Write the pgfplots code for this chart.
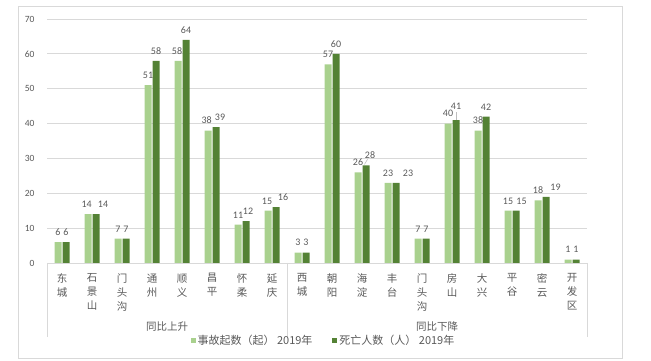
\documentclass[border=0pt]{standalone}
\usepackage{pgfplots}
\pgfplotsset{compat=1.18}
\usepackage{pgfplotstable}
\usepackage{fontspec}
\setmainfont{Carlito}
\newfontfamily\cjk{Noto Sans CJK SC}
\definecolor{lg}{HTML}{A9D18E}
\definecolor{dg}{HTML}{548235}
\definecolor{tg}{HTML}{595959}
\definecolor{gl}{HTML}{D9D9D9}
\pgfplotstableread{
x a b xa ya xb yb
0 6 6 0 0 0 0
1 14 14 -1.3 0 7 0
2 7 7 0 0 0 0
3 51 58 0 0 0 0
4 58 64 -1 0 0 0
5 38 39 -1.3 0 4 0
6 11 12 0 0 2 0
7 15 16 -1 0 7 0
8 3 3 0 0 0 0
9 57 60 0 0 0 0
10 26 28 0 0 4 0
11 23 23 0 0 12 0
12 7 7 0 0 0 0
13 40 41 0 0 0 4
14 38 42 0 0 0 0
15 15 15 0 0 5.5 0
16 18 19 0 0 9.5 0
17 1 1 0 0 0 0
}\data
\begin{document}
\begin{tikzpicture}
\path[use as bounding box] (0pt,0pt) rectangle (651pt,361pt);
\draw[gl, line width=0.8pt] (18pt,3pt) rectangle (622pt,355pt);
\begin{axis}[
 at={(47pt,98pt)}, anchor=south west,
 scale only axis, width=540pt, height=244pt,
 xmin=-0.5, xmax=17.5, ymin=0, ymax=70,
 ybar=1pt, bar width=7pt,
 clip=false,
 axis line style={draw=none},
 major tick length=0pt,
 ytick={0,10,...,70},
 ymajorgrids, grid style={gl, line width=0.8pt},
 xtick=data,
 xticklabels={{东\\城},{石\\景\\山},{门\\头\\沟},{通\\州},{顺\\义},{昌\\平},{怀\\柔},{延\\庆},{西\\城},{朝\\阳},{海\\淀},{丰\\台},{门\\头\\沟},{房\\山},{大\\兴},{平\\谷},{密\\云},{开\\发\\区}},
 xticklabel style={font=\cjk\fontsize{10.5}{14}\selectfont, align=center, text=tg, yshift=-7pt},
 yticklabel style={font=\fontsize{9.5}{11}\selectfont, text=tg, xshift=-9pt},
 /pgf/number format/assume math mode=true,
 nodes near coords,
 legend style={at={(0.512,-0.316)}, anchor=center, draw=none, fill=none, legend columns=2,
   font=\cjk\fontsize{11}{12}\selectfont, text=tg,
   /tikz/every even column/.append style={column sep=18pt}},
]
\addplot[fill=lg, draw=none,
  visualization depends on={\thisrow{xa}\as\xs},
  visualization depends on={\thisrow{ya}\as\ys},
  nodes near coords style={font=\fontsize{10}{12}\selectfont, text=tg, xshift=\xs pt, yshift=3pt+\ys pt},
  legend image code/.code={\fill[lg] (0pt,-2.5pt) rectangle (5pt,2.5pt);}] table[x=x,y=a] {\data};
\addlegendentry{事故起数（起） 2019年}
\addplot[fill=dg, draw=none,
  visualization depends on={\thisrow{xb}\as\xs},
  visualization depends on={\thisrow{yb}\as\ys},
  nodes near coords style={font=\fontsize{10}{12}\selectfont, text=tg, xshift=\xs pt, yshift=3pt+\ys pt},
  legend image code/.code={\fill[dg] (0pt,-2.5pt) rectangle (5pt,2.5pt);}] table[x=x,y=b] {\data};
\addlegendentry{死亡人数（人） 2019年}
\draw[gl, line width=0.8pt] (axis cs:-0.5,0) -- ++(0pt,-74pt);
\draw[gl, line width=0.8pt] (axis cs:7.5,0) -- ++(0pt,-74pt);
\draw[gl, line width=0.8pt] (axis cs:17.5,0) -- ++(0pt,-74pt);
\draw[gl!70!gray, line width=0.6pt] ([xshift=4pt]axis cs:13,41) -- ++(0pt,8pt);
\draw[gl!70!gray, line width=0.6pt] ([xshift=2.5pt,yshift=1pt]axis cs:10,28) -- ++(3pt,5pt);
\node[font=\cjk\fontsize{10.5}{12}\selectfont, text=tg] at ([yshift=-64pt]axis cs:3.5,0) {同比上升};
\node[font=\cjk\fontsize{10.5}{12}\selectfont, text=tg] at ([yshift=-64pt]axis cs:12.5,0) {同比下降};
\end{axis}
\end{tikzpicture}
\end{document}
